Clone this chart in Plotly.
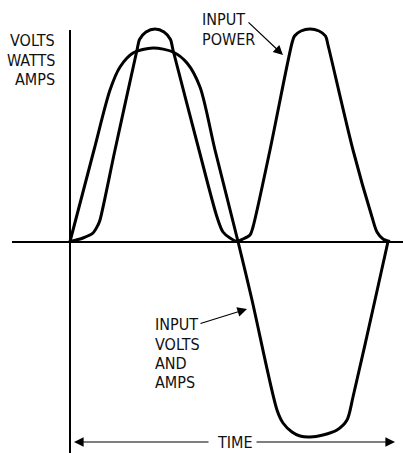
import plotly.graph_objects as go

# ---- data (time units, amplitude units; origin where the axes cross) ----
volts_t = [0, 24, 40, 50, 63, 83, 103, 117, 130, 145, 168, 182, 207, 213, 222, 230,
           240, 253, 267, 277, 283, 305, 318]
volts_v = [0, 91.5, 151.5, 174.5, 188.5, 193.5, 189.5, 178.5, 154.5, 91.5, 0, -58.5,
           -168.5, -181.5, -190.5, -194.5, -195.5, -193.5, -188.5, -178.5, -155.5, -58.5, 0]

power_t = [0, 13, 23, 28, 30, 45, 67, 69.5, 76, 85, 94, 100.5, 103, 129, 147, 153, 160, 167,
           173, 180, 183, 200, 222, 224.5, 231, 240, 249, 255.5, 258, 283, 302, 307, 313, 320]
power_w = [0, 3.5, 8.5, 16.5, 21.5, 91.5, 191.5, 202.0, 209.5, 212.5, 209.5, 202.0, 191.5,
           91.5, 24.5, 9.5, 3.5, 0, 2.5, 6.5, 14.5, 91.5, 198.5, 205.5, 210.5, 212.5, 210.5,
           205.5, 196.5, 91.5, 24.5, 9.5, 2.5, 0]

axis_top = 211.5  # top end of the vertical (amplitude) axis

y_label_lines = ["VOLTS", "WATTS", "AMPS"]
power_label_lines = ["INPUT", "POWER"]
va_label_lines = ["INPUT", "VOLTS", "AND", "AMPS"]
time_label = "TIME"

FONT = "Liberation Sans Narrow, Arial Narrow, DejaVu Sans Condensed, sans-serif"
INK = "#111111"

fig = go.Figure()
fig.add_trace(go.Scatter(x=volts_t, y=volts_v, mode="lines",
                         line=dict(color="black", width=3, shape="spline", smoothing=0.8),
                         hoverinfo="skip", showlegend=False))
fig.add_trace(go.Scatter(x=power_t, y=power_w, mode="lines",
                         line=dict(color="black", width=3, shape="spline", smoothing=0.8),
                         hoverinfo="skip", showlegend=False))

# vertical amplitude axis
fig.add_shape(type="line", xref="x", yref="y", x0=0, x1=0, y0=-211.5, y1=axis_top,
              line=dict(color="black", width=2), layer="below")

ann = []
for i, t in enumerate(y_label_lines):
    ann.append(dict(x=-13, y=[201.5, 181.5, 162.0][i], xref="x", yref="y", text=t,
                    showarrow=False, xanchor="right", yanchor="middle",
                    font=dict(family=FONT, size=16, color=INK)))
for i, t in enumerate(power_label_lines):
    ann.append(dict(x=130, y=[222.5, 202.5][i], xref="x", yref="y",
                    text=t, showarrow=False, xanchor="left", yanchor="middle",
                    font=dict(family=FONT, size=16, color=INK)))
for i, t in enumerate(va_label_lines):
    ann.append(dict(x=83, y=[-82.5, -102.5, -121.5, -140.5][i], xref="x", yref="y", text=t,
                    showarrow=False, xanchor="left", yanchor="middle",
                    font=dict(family=FONT, size=16, color=INK)))
ann.append(dict(x=165, y=-200.5, xref="x", yref="y", text=time_label, showarrow=False,
                xanchor="center", yanchor="middle", bgcolor="white",
                font=dict(family=FONT, size=16, color=INK)))

# pointer arrows
arrow_common = dict(text="", showarrow=True, arrowhead=2, arrowsize=1.6, arrowwidth=1.2,
                    arrowcolor="black", xref="x", yref="y", axref="x", ayref="y")
ann.append(dict(x=213, y=186.5, ax=177, ay=220.5, **arrow_common))
ann.append(dict(x=177, y=-67.5, ax=129, ay=-82.5, **arrow_common))
ann.append(dict(x=4, y=-200.5, ax=140, ay=-200.5, **arrow_common))
ann.append(dict(x=325, y=-200.5, ax=185, ay=-200.5, **arrow_common))

fig.update_layout(
    width=403, height=453,
    margin=dict(l=12, r=0, t=0, b=0),
    paper_bgcolor="white", plot_bgcolor="white",
    xaxis=dict(range=[-58, 333], showgrid=False, showticklabels=False, ticks="",
               zeroline=False, fixedrange=True),
    yaxis=dict(range=[-211.5, 241.5], showgrid=False, showticklabels=False, ticks="",
               zeroline=True, zerolinecolor="black", zerolinewidth=2, fixedrange=True),
    annotations=ann,
    showlegend=False,
)
fig.write_html("out.html", config={"displayModeBar": False},
               post_script="document.body.style.margin='0';document.body.style.overflow='hidden';")
